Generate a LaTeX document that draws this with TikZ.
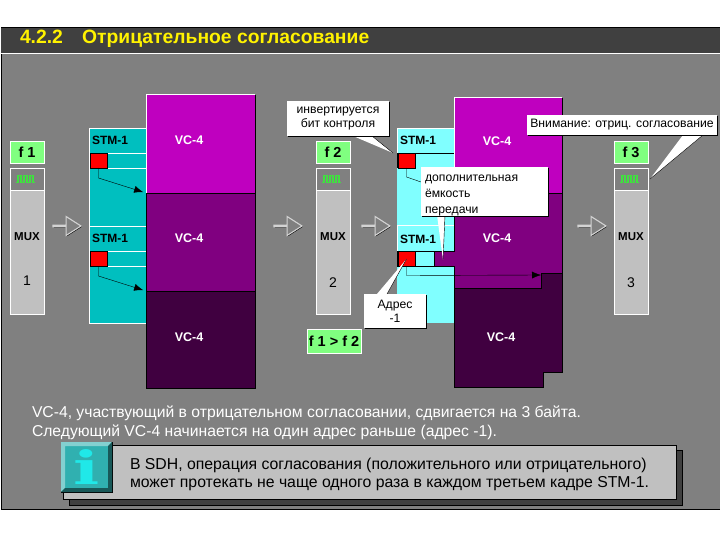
\documentclass[tikz,border=0pt]{standalone}
\usepackage{fontspec}
\setmainfont{Liberation Sans}
\newfontfamily\iconfont{DejaVu Serif}
\usetikzlibrary{arrows.meta, positioning, shapes, shapes.arrows, shadows}

\definecolor{panelgray}{HTML}{808080}
\definecolor{titlegray}{HTML}{404040}
\definecolor{muxgray}{HTML}{C0C0C0}
\definecolor{freqgreen}{HTML}{80FF80}
\definecolor{wavegreen}{HTML}{40E040}
\definecolor{stmteal}{HTML}{00BFBF}
\definecolor{stmcyan}{HTML}{80FFFF}
\definecolor{vcone}{HTML}{BF00BF}
\definecolor{vctwo}{HTML}{800080}
\definecolor{vcthree}{HTML}{400040}
\definecolor{icongreen}{HTML}{30B0B0}
\definecolor{iconletter}{HTML}{20E8E8}

\newcommand{\pulsewave}[1]{\draw[wavegreen, line width=1.2pt] ([xshift=-11pt,yshift=-3.5pt]#1.center) -- ++(2,0) -- ++(0,-7) -- ++(3,0) -- ++(0,7) -- ++(3,0) -- ++(0,-7) -- ++(3,0) -- ++(0,7) -- ++(3,0) -- ++(0,-7) -- ++(3,0) -- ++(0,7) -- ++(2,0);}

\tikzset{
    every node/.style={inner sep=0pt, outer sep=0pt},
    freqbox/.style={draw=white, fill=freqgreen, minimum width=34pt, minimum height=22pt, font=\fontsize{14.5}{16}\selectfont\bfseries},
    muxtop/.style={draw=white, fill=panelgray, minimum width=34pt, minimum height=22pt},
    muxbody/.style={draw=white, fill=muxgray, minimum width=34pt, minimum height=124pt},
    muxtext/.style={font=\fontsize{11.5}{13}\selectfont\bfseries},
    muxnum/.style={font=\fontsize{14}{15}\selectfont},
    stmhead/.style={minimum height=25pt, text width=51pt, inner xsep=3pt, align=left, font=\fontsize{12}{14}\selectfont\bfseries},
    stmrow/.style={minimum width=57pt, minimum height=15pt},
    stmrest/.style={minimum width=57pt},
    redbox/.style={draw=black, line width=.6pt, fill=red, minimum width=17pt, minimum height=15pt},
    vclabel/.style={text=white, font=\fontsize{12.5}{14}\selectfont\bfseries},
    calloutbox/.style={fill=white, align=center, font=\fontsize{12.2}{14}\selectfont, drop shadow={shadow xshift=.8pt, shadow yshift=-.8pt, fill=black, opacity=1}},
    callouttail/.style={fill=white},
    bigarrow/.style={single arrow, draw=muxgray!70!white, line width=1.1pt, fill=panelgray, minimum height=28pt, minimum width=19pt, single arrow head extend=6pt, single arrow tip angle=65, anchor=tail, drop shadow={shadow xshift=.8pt, shadow yshift=-.8pt, fill=black, opacity=1}},
    bitarrow/.style={-{Latex[length=9pt,width=7pt]}, black},
}

\begin{document}
\begin{tikzpicture}[x=1pt, y=-1pt]
    \useasboundingbox (0,0) rectangle (720,540);
    % Panel and title
    \fill[white] (0,0) rectangle (720,540);
    \node[draw=black, fill=panelgray, minimum width=719pt, minimum height=482pt] (panel) at (360.5,268.5) {};
    \node[fill=titlegray, minimum width=719pt, minimum height=25pt] (titlebar) at (360.5,40.5) {};
    \draw[white] (titlebar.south west) -- (titlebar.south east);
    \node[text=yellow, anchor=west, font=\fontsize{19.3}{20}\selectfont\bfseries] (title) at (20,39) {4.2.2\hspace{1em}Отрицательное согласование};

    % Multiplexers
    \node[freqbox] (freqA) at (27,152) {f 1};
    \node[muxtop] (muxtopA) at (27,179) {};
    \node[muxbody] (muxA) at (27,252) {};
    \node[muxtext] (muxlabelA) at (27,237) {MUX};
    \node[muxnum] (numA) at (27,281) {1};
    \pulsewave{muxtopA}

    \node[freqbox] (freqB) at (333,152) {f 2};
    \node[muxtop] (muxtopB) at (333,179) {};
    \node[muxbody] (muxB) at (333,252) {};
    \node[muxtext] (muxlabelB) at (333,237) {MUX};
    \node[muxnum] (numB) at (333,283) {2};
    \pulsewave{muxtopB}

    \node[freqbox] (freqC) at (631,152) {f 3};
    \node[muxtop] (muxtopC) at (631,179) {};
    \node[muxbody] (muxC) at (631,252) {};
    \node[muxtext] (muxlabelC) at (631,237) {MUX};
    \node[muxnum] (numC) at (631,283) {3};
    \pulsewave{muxtopC}

    \node[freqbox, minimum width=54pt, minimum height=24pt] (freqcmp) at (334,341) {f 1 > f 2};

    % Big arrows
    \node[bigarrow] (flowA) at (53,226) {};
    \node[bigarrow] (flowB) at (274,226) {};
    \node[bigarrow] (flowC) at (362,226) {};
    \node[bigarrow] (flowD) at (578,226) {};

    % Left STM-1 frames
    \node[stmhead, draw=white, fill=stmteal] (stmA) at (117.5,140.5) {STM-1};
    \node[stmrow, draw=white, fill=stmteal] (rowA) at (117.5,160.5) {};
    \node[stmrest, draw=white, fill=stmteal, minimum height=58pt] (restA) at (117.5,197) {};
    \node[redbox] (redA) at (98.5,160.5) {};
    \node[stmhead, draw=white, fill=stmteal] (stmB) at (117.5,238.5) {STM-1};
    \node[stmrow, draw=white, fill=stmteal] (rowB) at (117.5,258.5) {};
    \node[stmrest, draw=white, fill=stmteal, minimum height=57pt] (restB) at (117.5,294.5) {};
    \node[redbox] (redB) at (98.5,258.5) {};

    % Left VC-4
    \node[fill=vcone, minimum width=109pt, minimum height=98pt] (vcA) at (200.5,144) {};
    \draw[white, line width=1pt] (vcA.south west) -- (vcA.north west) -- (vcA.north east);
    \draw[black] (vcA.north east) -- (vcA.south east);
    \node[draw=black, fill=vctwo, minimum width=109pt, minimum height=98pt] (vcB) at (200.5,242) {};
    \node[draw=black, fill=vcthree, minimum width=109pt, minimum height=97pt] (vcC) at (200.5,339.5) {};
    \node[vclabel] (vclabelA) at (189,140) {VC-4};
    \node[vclabel] (vclabelB) at (189,238) {VC-4};
    \node[vclabel] (vclabelC) at (189,337) {VC-4};

    % Arrows
    \draw[bitarrow, shorten >=3pt] (redA.south) -- ++(0,10) -- (vcB.north west);
    \draw[bitarrow, shorten >=3pt] (redB.south) -- ++(0,10) -- (vcC.north west);

    % Right STM-1 frames
    \node[stmhead, draw=white, fill=stmcyan] (stmC) at (425.5,140.5) {STM-1};
    \node[stmrow, draw=black, fill=stmcyan] (rowC) at (425.5,160.5) {};
    \node[stmrest, fill=stmcyan, minimum height=58pt] (restC) at (425.5,197) {};
    \node[redbox] (redC) at (406.5,160.5) {};
    \node[stmhead, draw=white, fill=stmcyan, minimum height=27pt] (stmD) at (425.5,239) {STM-1};
    \node[stmrest, fill=stmcyan, minimum height=57pt] (restD) at (425.5,294.5) {};
    \node[stmrow, draw=black, fill=stmcyan] (rowD) at (425.5,259) {};
    \node[redbox] (redD) at (406.5,259) {};

    % Right VC-4, shifted
    \fill[vcthree, draw=black] (454,288) -- (541,288) -- (541,273) -- (562,273) -- (562,372) -- (543.5,372) -- (543.5,387) -- (454,387) -- cycle;
    \fill[vctwo, draw=black] (454,193) -- (562,193) -- (562,273) -- (541,273) -- (541,288) -- (454,288) -- (454,266) -- (434,266) -- (434,251) -- (454,251) -- cycle;
    \node[fill=vcone, minimum width=108pt, minimum height=95pt] (vcD) at (508,145.5) {};
    \draw[white, line width=1pt] (vcD.south west) -- (vcD.north west) -- (vcD.north east);
    \draw[black] (vcD.north east) -- (vcD.south east);
    \node[vclabel] (vclabelD) at (497,141) {VC-4};
    \node[vclabel] (vclabelE) at (497,238) {VC-4};
    \node[vclabel] (vclabelF) at (501,337) {VC-4};

    % Arrows
    \coordinate (capacityend) at (421,182);
    \coordinate (shiftend) at (541,275);
    \draw[black] (redC.south) -- ++(0,9) -- (capacityend);
    \draw[bitarrow] (redD.south) -- ++(0,9) -- (shiftend);

    % Callouts
    \fill[callouttail] (353,136) -- (372,136) -- ([xshift=-5pt]redC.north west) -- cycle;
    \draw[black] (372,136) -- ([xshift=-5pt]redC.north west);
    \node[calloutbox, minimum width=102pt, minimum height=35pt] (invertnote) at (338,118.5) {инвертируется\\бит контроля};

    \fill[callouttail] (437,215) -- (445,215) -- (443,260) -- cycle;
    \draw[black] (445,215) -- (443,260);
    \node[calloutbox, minimum width=127pt, minimum height=47pt, text width=119pt, inner xsep=4pt, align=left, font=\fontsize{12.2}{16}\selectfont] (capacitynote) at (484.5,191.5) {\rule{0pt}{14pt}дополнительная\\ёмкость\\передачи};

    \fill[callouttail] (377,294) -- (387,294) -- (redD.center) -- cycle;
    \draw[black] (387,294) -- (redD.center);
    \node[calloutbox, minimum width=62pt, minimum height=34pt] (addressnote) at (395,311) {Адрес\\-1};

    \fill[callouttail] (683,135) -- (703,135) -- ([xshift=2pt]muxtopC.east) -- cycle;
    \draw[black] (703,135) -- ([xshift=2pt]muxtopC.east);
    \node[calloutbox, minimum width=190pt, minimum height=20pt] (warnnote) at (622,125) {Внимание: отриц. согласование};

    % Text below
    \node[text=white, anchor=west, align=left, font=\fontsize{15.7}{19}\selectfont] (notes) at (32,423) {VC-4, участвующий в отрицательном согласовании, сдвигается на 3 байта.\\Следующий VC-4 начинается на один адрес раньше (адрес -1).};

    % Info box
    \node[draw=black, fill=titlegray, minimum width=613pt, minimum height=55pt] (infoshadow) at (375.5,477.5) {};
    \node[draw=black, fill=muxgray, minimum width=613pt, minimum height=54pt] (infobox) at (369.5,472) {};
    \node[draw=black, fill=icongreen, minimum width=51pt, minimum height=50pt, text=iconletter, font=\iconfont\bfseries\fontsize{46}{46}\selectfont] (iconbox) at (86.5,467) {\scalebox{1.5}[1]{i}};
    \fill[icongreen!60!white] (iconbox.north west) -- (iconbox.north east) -- ([xshift=-4pt,yshift=-4pt]iconbox.north east) -- ([xshift=4pt,yshift=-4pt]iconbox.north west) -- ([xshift=4pt,yshift=4pt]iconbox.south west) -- (iconbox.south west) -- cycle;
    \fill[icongreen!50!black] (iconbox.south east) -- (iconbox.north east) -- ([xshift=-4pt,yshift=-4pt]iconbox.north east) -- ([xshift=-4pt,yshift=4pt]iconbox.south east) -- ([xshift=4pt,yshift=4pt]iconbox.south west) -- (iconbox.south west) -- cycle;
    \node[anchor=west, align=left, font=\fontsize{15.8}{18}\selectfont] (infotext) at (130,474.5) {В SDH, операция согласования (положительного или отрицательного)\\может протекать не чаще одного раза в каждом третьем кадре STM-1.};
\end{tikzpicture}
\end{document}
